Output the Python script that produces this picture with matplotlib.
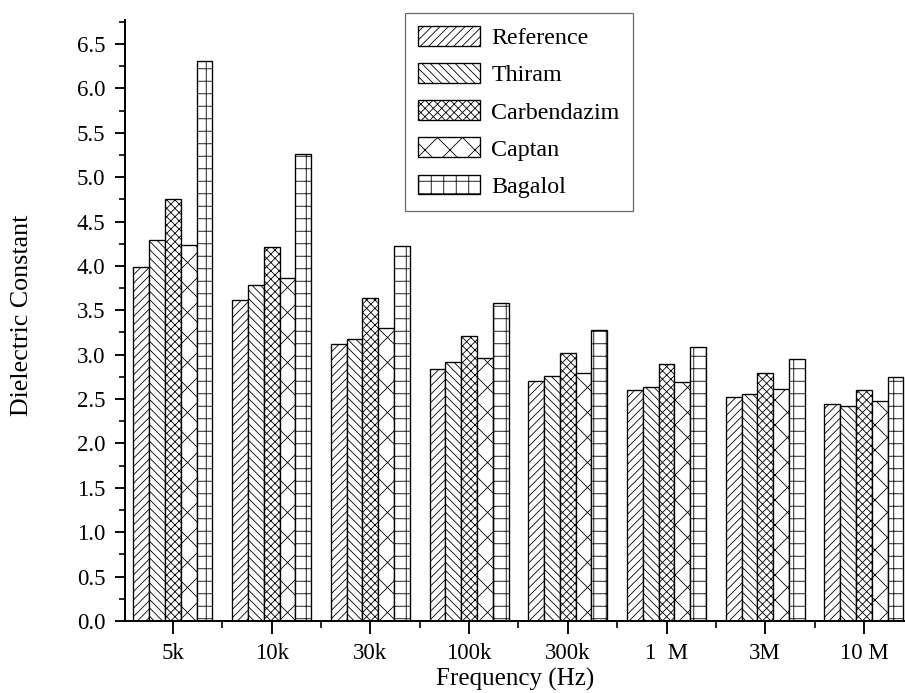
import matplotlib
matplotlib.use("Agg")
import matplotlib.pyplot as plt
import numpy as np
from matplotlib.ticker import MultipleLocator, FixedLocator

plt.rcParams['font.family'] = ['Liberation Serif', 'DejaVu Serif']
plt.rcParams['hatch.linewidth'] = 0.8
plt.rcParams['hatch.color'] = 'black'

categories = ["5k", "10k", "30k", "100k", "300k", "1  M", "3M", "10 M"]
series_names = ["Reference", "Thiram", "Carbendazim", "Captan", "Bagalol"]
reference = [3.99, 3.62, 3.12, 2.84, 2.70, 2.60, 2.52, 2.44]
thiram = [4.29, 3.78, 3.18, 2.92, 2.76, 2.64, 2.56, 2.42]
carbendazim = [4.75, 4.21, 3.64, 3.21, 3.02, 2.89, 2.79, 2.60]
captan = [4.24, 3.86, 3.30, 2.96, 2.79, 2.69, 2.61, 2.48]
bagalol = [6.31, 5.26, 4.22, 3.58, 3.28, 3.09, 2.95, 2.75]
hatches = ['///', '\\\\\\', 'xxx', 'x', '+']

series = [reference, thiram, carbendazim, captan, bagalol]

DPI = 75
fig = plt.figure(figsize=(905 / DPI, 693 / DPI), dpi=DPI)
ax = fig.add_axes([125 / 905, 1 - 621 / 693, 1 - 125 / 905, (621 - 20) / 693])

x = np.arange(len(categories))
w = 0.16
for i, (vals, name, h) in enumerate(zip(series, series_names, hatches)):
    ax.bar(x + (i - 2) * w, vals, width=w, facecolor='white', edgecolor='black',
           linewidth=1.3, hatch=h, label=name)

ax.set_xlim(-0.486, 7.416)
ax.set_ylim(0, 6.77)

ax.spines['top'].set_visible(False)
ax.spines['right'].set_visible(False)
for s in ['left', 'bottom']:
    ax.spines[s].set_linewidth(1.9)

ax.yaxis.set_major_locator(MultipleLocator(0.5))
ax.yaxis.set_minor_locator(MultipleLocator(0.25))
ax.yaxis.set_major_formatter(matplotlib.ticker.FormatStrFormatter('%.1f'))
ax.set_xticks(x)
ax.set_xticklabels(categories)
ax.xaxis.set_minor_locator(FixedLocator(np.arange(-0.5, 8, 1.0)))

ax.tick_params(axis='y', which='major', direction='out', length=10, width=1.8,
               labelsize=22, pad=9)
ax.tick_params(axis='y', which='minor', direction='out', length=6, width=1.6)
ax.tick_params(axis='x', which='major', direction='out', length=12, width=1.8,
               labelsize=22, pad=9)
ax.tick_params(axis='x', which='minor', direction='out', length=7, width=1.6)

ax.set_xlabel("Frequency (Hz)", fontsize=24, labelpad=4)
ax.set_ylabel("Dielectric Constant", fontsize=25)
ax.yaxis.set_label_coords(-0.118, 0.509)

leg = ax.legend(loc='upper left', bbox_to_anchor=(405 / 905, 1 - 13 / 693),
                bbox_transform=fig.transFigure, fontsize=23, frameon=True,
                fancybox=False, shadow=False, borderpad=0.55, borderaxespad=0,
                handlelength=2.6, handleheight=0.9, handletextpad=0.45,
                labelspacing=0.58)
leg.get_frame().set_edgecolor('#444444')
leg.get_frame().set_linewidth(1.2)

fig.savefig("out.png", dpi=DPI)
